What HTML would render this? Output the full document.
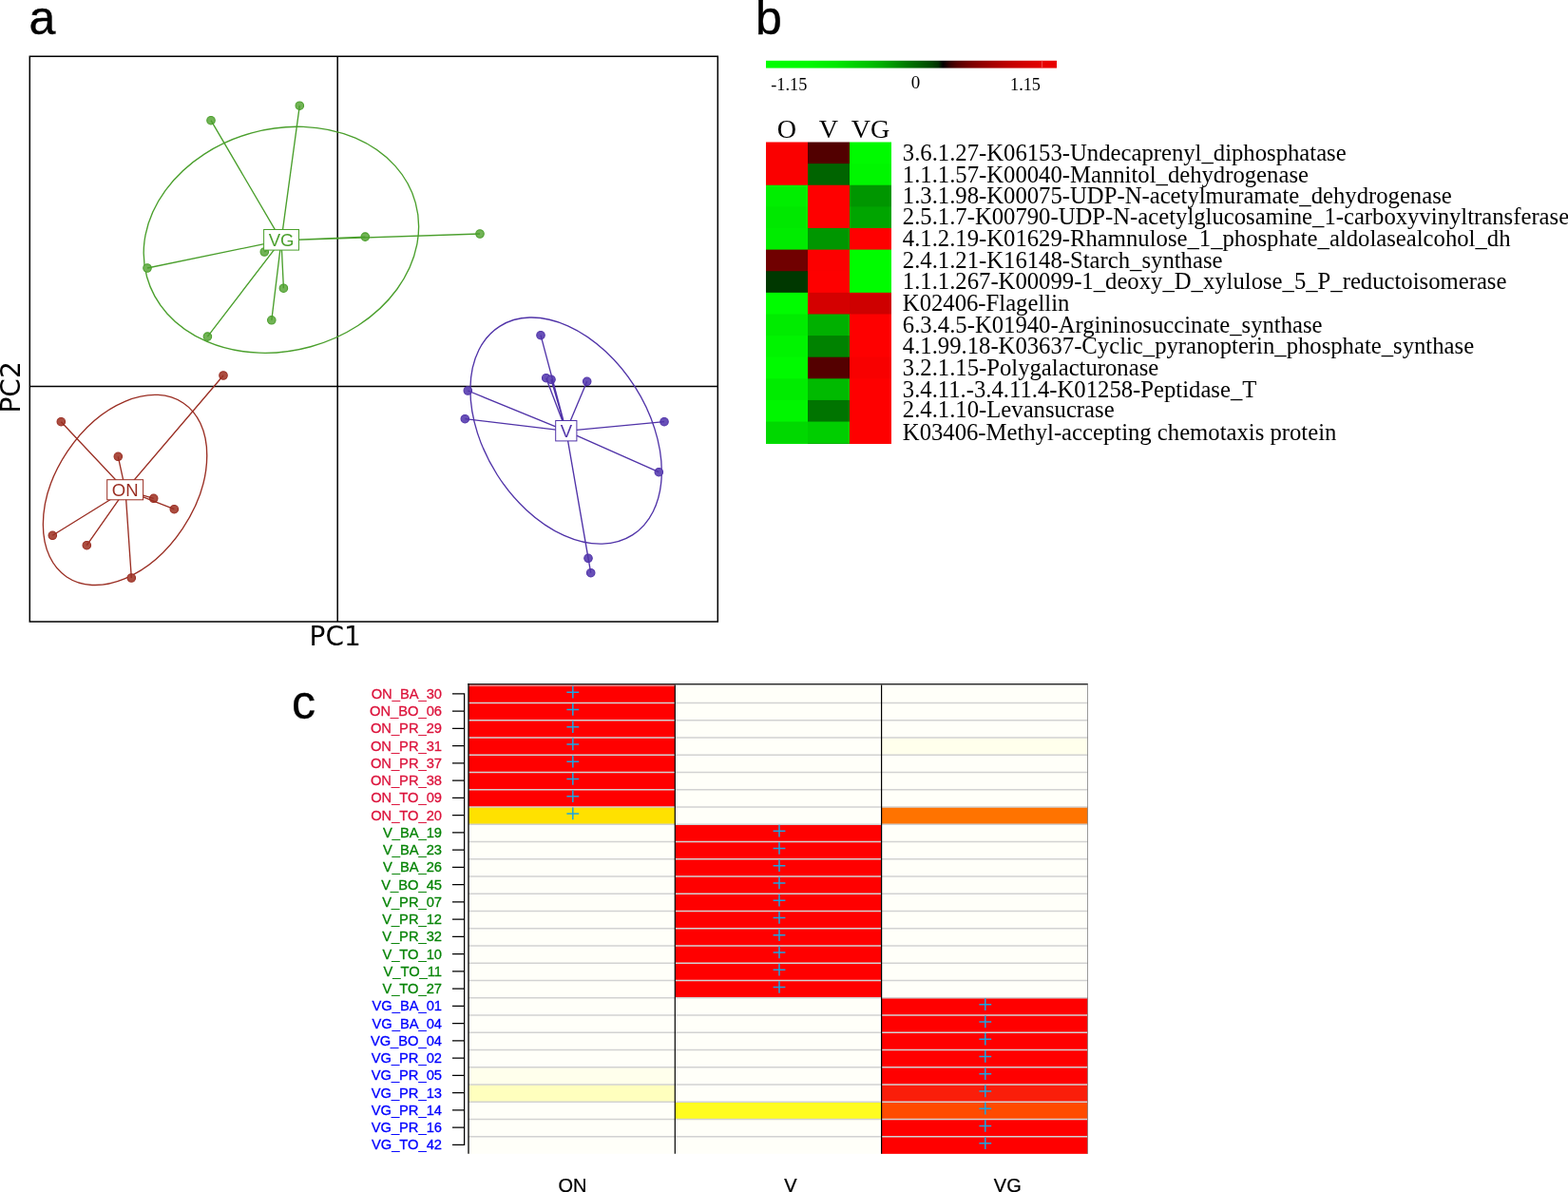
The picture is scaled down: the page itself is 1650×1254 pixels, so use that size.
<!DOCTYPE html>
<html lang="en"><head><meta charset="utf-8"><title>Figure</title>
<style>html,body{margin:0;padding:0;background:#fff;overflow:hidden}svg{display:block}.sans{font-family:"Liberation Sans",sans-serif}.serif{font-family:"Liberation Serif",serif}.dj{font-family:"DejaVu Sans",sans-serif}</style></head><body>
<svg width="1650" height="1254" viewBox="0 0 1650 1254" role="img" aria-label="Figure with panels a, b and c">
<rect x="0" y="0" width="1650" height="1254" fill="#ffffff"/>
<text class="sans" x="30.4" y="35.8" font-size="50" fill="#000" stroke="#000" stroke-width="0.4">a</text>
<text class="sans" x="795.1" y="35.8" font-size="50" fill="#000" stroke="#000" stroke-width="0.4">b</text>
<text class="sans" x="307.1" y="755.9" font-size="50" fill="#000" stroke="#000" stroke-width="0.3">c</text>
<g fill="none" stroke="#000" stroke-width="1.5">
<rect x="31.3" y="59.3" width="724.0" height="594.7"/>
<line x1="355.2" y1="59.3" x2="355.2" y2="653.95"/>
<line x1="31.3" y1="406.4" x2="755.3" y2="406.4"/>
</g>
<text class="dj" x="352.7" y="679" font-size="28" text-anchor="middle" fill="#000">PC1</text>
<text class="dj" transform="translate(20.5 407.4) rotate(-90)" font-size="28" text-anchor="middle" fill="#000">PC2</text>
<g stroke="#4a9f2c" stroke-width="1.35" fill="none">
<ellipse cx="295.9" cy="252.3" rx="146.62" ry="116.63" transform="rotate(164.58 295.9 252.3)"/>
<circle cx="315.3" cy="111.2" r="4.25" fill="#72b356" stroke-width="1.1"/>
<circle cx="222" cy="126.7" r="4.25" fill="#72b356" stroke-width="1.1"/>
<circle cx="505" cy="246.0" r="4.25" fill="#72b356" stroke-width="1.1"/>
<circle cx="384.3" cy="249.1" r="4.25" fill="#72b356" stroke-width="1.1"/>
<circle cx="278.3" cy="265.0" r="4.25" fill="#72b356" stroke-width="1.1"/>
<circle cx="155" cy="282.0" r="4.25" fill="#72b356" stroke-width="1.1"/>
<circle cx="298.4" cy="303.2" r="4.25" fill="#72b356" stroke-width="1.1"/>
<circle cx="285.8" cy="336.8" r="4.25" fill="#72b356" stroke-width="1.1"/>
<circle cx="218.4" cy="354.1" r="4.25" fill="#72b356" stroke-width="1.1"/>
<path d="M296.0 252.9L315.3 111.2M296.0 252.9L222 126.7M296.0 252.9L505 246.0M296.0 252.9L384.3 249.1M296.0 252.9L278.3 265.0M296.0 252.9L155 282.0M296.0 252.9L298.4 303.2M296.0 252.9L285.8 336.8M296.0 252.9L218.4 354.1"/>
<rect x="277.6" y="241.5" width="36.9" height="21.6" fill="#fff" stroke-width="1"/>
<text class="sans" x="296.1" y="259.2" font-size="18.5" text-anchor="middle" fill="#4a9f2c" stroke="none">VG</text>
</g>
<g stroke="#9a2e23" stroke-width="1.35" fill="none">
<ellipse cx="131.55" cy="515.45" rx="110.14" ry="72.93" transform="rotate(123.83 131.55 515.45)"/>
<circle cx="235" cy="395" r="4.25" fill="#ab4d40" stroke-width="1.1"/>
<circle cx="64.3" cy="443.7" r="4.25" fill="#ab4d40" stroke-width="1.1"/>
<circle cx="124.3" cy="480.3" r="4.25" fill="#ab4d40" stroke-width="1.1"/>
<circle cx="161.7" cy="524.3" r="4.25" fill="#ab4d40" stroke-width="1.1"/>
<circle cx="183.3" cy="535.7" r="4.25" fill="#ab4d40" stroke-width="1.1"/>
<circle cx="55.3" cy="563.3" r="4.25" fill="#ab4d40" stroke-width="1.1"/>
<circle cx="91.3" cy="573.7" r="4.25" fill="#ab4d40" stroke-width="1.1"/>
<circle cx="138.3" cy="608" r="4.25" fill="#ab4d40" stroke-width="1.1"/>
<path d="M132.0 515.7L235 395M132.0 515.7L64.3 443.7M132.0 515.7L124.3 480.3M132.0 515.7L161.7 524.3M132.0 515.7L183.3 535.7M132.0 515.7L55.3 563.3M132.0 515.7L91.3 573.7M132.0 515.7L138.3 608"/>
<rect x="112.7" y="504.7" width="37.9" height="21.1" fill="#fff" stroke-width="1"/>
<text class="sans" x="131.7" y="521.9" font-size="18.5" text-anchor="middle" fill="#9a2e23" stroke="none">ON</text>
</g>
<g stroke="#5033a8" stroke-width="1.35" fill="none">
<ellipse cx="595.6" cy="453.1" rx="130.12" ry="85.98" transform="rotate(57.54 595.6 453.1)"/>
<circle cx="569" cy="352.7" r="4.25" fill="#6850b8" stroke-width="1.1"/>
<circle cx="574.7" cy="397.7" r="4.25" fill="#6850b8" stroke-width="1.1"/>
<circle cx="580" cy="399.3" r="4.25" fill="#6850b8" stroke-width="1.1"/>
<circle cx="617.7" cy="401.3" r="4.25" fill="#6850b8" stroke-width="1.1"/>
<circle cx="492.3" cy="411" r="4.25" fill="#6850b8" stroke-width="1.1"/>
<circle cx="489.3" cy="440.7" r="4.25" fill="#6850b8" stroke-width="1.1"/>
<circle cx="699" cy="443.7" r="4.25" fill="#6850b8" stroke-width="1.1"/>
<circle cx="693.3" cy="496.7" r="4.25" fill="#6850b8" stroke-width="1.1"/>
<circle cx="619" cy="587.3" r="4.25" fill="#6850b8" stroke-width="1.1"/>
<circle cx="621.7" cy="602.7" r="4.25" fill="#6850b8" stroke-width="1.1"/>
<path d="M595.8 453.3L569 352.7M595.8 453.3L574.7 397.7M595.8 453.3L580 399.3M595.8 453.3L617.7 401.3M595.8 453.3L492.3 411M595.8 453.3L489.3 440.7M595.8 453.3L699 443.7M595.8 453.3L693.3 496.7M595.8 453.3L619 587.3M595.8 453.3L621.7 602.7"/>
<rect x="584.7" y="442.5" width="22.2" height="21.4" fill="#fff" stroke-width="1"/>
<text class="sans" x="595.8" y="460.0" font-size="18.5" text-anchor="middle" fill="#5033a8" stroke="none">V</text>
</g>
<defs><linearGradient id="cb" x1="0" y1="0" x2="1" y2="0">
<stop offset="0.0000" stop-color="rgb(0,255,0)"/>
<stop offset="0.1516" stop-color="rgb(0,250,0)"/>
<stop offset="0.2549" stop-color="rgb(0,232,0)"/>
<stop offset="0.3238" stop-color="rgb(0,208,0)"/>
<stop offset="0.3686" stop-color="rgb(0,195,0)"/>
<stop offset="0.4168" stop-color="rgb(0,175,0)"/>
<stop offset="0.4616" stop-color="rgb(0,150,0)"/>
<stop offset="0.5064" stop-color="rgb(0,122,0)"/>
<stop offset="0.5546" stop-color="rgb(0,96,0)"/>
<stop offset="0.5994" stop-color="rgb(0,70,0)"/>
<stop offset="0.6235" stop-color="rgb(0,48,0)"/>
<stop offset="0.6407" stop-color="rgb(0,0,0)"/>
<stop offset="0.6683" stop-color="rgb(55,0,0)"/>
<stop offset="0.6924" stop-color="rgb(85,0,0)"/>
<stop offset="0.7372" stop-color="rgb(120,0,0)"/>
<stop offset="0.7819" stop-color="rgb(146,0,0)"/>
<stop offset="0.8302" stop-color="rgb(170,0,0)"/>
<stop offset="0.8750" stop-color="rgb(190,0,0)"/>
<stop offset="0.9197" stop-color="rgb(206,0,0)"/>
<stop offset="0.9680" stop-color="rgb(219,0,0)"/>
<stop offset="1.0000" stop-color="rgb(228,0,0)"/>
</linearGradient></defs>
<rect x="806.0" y="63.8" width="290.8" height="7.8" fill="url(#cb)"/>
<rect x="1096.6" y="63.8" width="15.4" height="7.8" fill="rgb(232,0,0)"/>
<rect x="1096.3" y="63.8" width="0.7" height="7.8" fill="rgb(240,95,95)"/>
<g class="serif" font-size="18.3" fill="#000">
<text x="811.2" y="94.8">-1.15</text>
<text x="963.5" y="93.2" text-anchor="middle" font-size="19">0</text>
<text x="1063" y="94.8">1.15</text>
</g>
<g class="serif" font-size="28.1" fill="#000" text-anchor="middle">
<text x="828.0" y="145.3">O</text>
<text x="872.0" y="145.3">V</text>
<text x="916.0" y="145.3">VG</text>
</g>
<g>
<rect x="806" y="149.50" width="44" height="317.20" fill="rgb(250,0,0)"/>
<rect x="850" y="149.50" width="44" height="317.20" fill="rgb(82,0,0)"/>
<rect x="894" y="149.50" width="44" height="317.20" fill="rgb(0,250,0)"/>
<rect x="806" y="172.12" width="44" height="294.58" fill="rgb(250,0,0)"/>
<rect x="850" y="172.12" width="44" height="294.58" fill="rgb(0,100,0)"/>
<rect x="894" y="172.12" width="44" height="294.58" fill="rgb(0,246,0)"/>
<rect x="806" y="194.74" width="44" height="271.96" fill="rgb(0,238,0)"/>
<rect x="850" y="194.74" width="44" height="271.96" fill="rgb(254,0,0)"/>
<rect x="894" y="194.74" width="44" height="271.96" fill="rgb(0,150,0)"/>
<rect x="806" y="217.36" width="44" height="249.34" fill="rgb(0,232,0)"/>
<rect x="850" y="217.36" width="44" height="249.34" fill="rgb(254,0,0)"/>
<rect x="894" y="217.36" width="44" height="249.34" fill="rgb(0,165,0)"/>
<rect x="806" y="239.98" width="44" height="226.72" fill="rgb(0,236,0)"/>
<rect x="850" y="239.98" width="44" height="226.72" fill="rgb(0,150,0)"/>
<rect x="894" y="239.98" width="44" height="226.72" fill="rgb(254,0,0)"/>
<rect x="806" y="262.60" width="44" height="204.10" fill="rgb(112,0,0)"/>
<rect x="850" y="262.60" width="44" height="204.10" fill="rgb(252,0,0)"/>
<rect x="894" y="262.60" width="44" height="204.10" fill="rgb(0,252,0)"/>
<rect x="806" y="285.22" width="44" height="181.48" fill="rgb(0,56,0)"/>
<rect x="850" y="285.22" width="44" height="181.48" fill="rgb(254,0,0)"/>
<rect x="894" y="285.22" width="44" height="181.48" fill="rgb(0,252,0)"/>
<rect x="806" y="307.84" width="44" height="158.86" fill="rgb(0,252,0)"/>
<rect x="850" y="307.84" width="44" height="158.86" fill="rgb(212,0,0)"/>
<rect x="894" y="307.84" width="44" height="158.86" fill="rgb(206,0,0)"/>
<rect x="806" y="330.46" width="44" height="136.24" fill="rgb(0,236,0)"/>
<rect x="850" y="330.46" width="44" height="136.24" fill="rgb(0,176,0)"/>
<rect x="894" y="330.46" width="44" height="136.24" fill="rgb(254,0,0)"/>
<rect x="806" y="353.08" width="44" height="113.62" fill="rgb(0,244,0)"/>
<rect x="850" y="353.08" width="44" height="113.62" fill="rgb(0,130,0)"/>
<rect x="894" y="353.08" width="44" height="113.62" fill="rgb(254,0,0)"/>
<rect x="806" y="375.70" width="44" height="91.00" fill="rgb(0,250,0)"/>
<rect x="850" y="375.70" width="44" height="91.00" fill="rgb(84,0,0)"/>
<rect x="894" y="375.70" width="44" height="91.00" fill="rgb(248,0,0)"/>
<rect x="806" y="398.32" width="44" height="68.38" fill="rgb(0,236,0)"/>
<rect x="850" y="398.32" width="44" height="68.38" fill="rgb(0,186,0)"/>
<rect x="894" y="398.32" width="44" height="68.38" fill="rgb(254,0,0)"/>
<rect x="806" y="420.94" width="44" height="45.76" fill="rgb(0,246,0)"/>
<rect x="850" y="420.94" width="44" height="45.76" fill="rgb(0,116,0)"/>
<rect x="894" y="420.94" width="44" height="45.76" fill="rgb(254,0,0)"/>
<rect x="806" y="443.56" width="44" height="23.14" fill="rgb(0,216,0)"/>
<rect x="850" y="443.56" width="44" height="23.14" fill="rgb(0,206,0)"/>
<rect x="894" y="443.56" width="44" height="23.14" fill="rgb(254,0,0)"/>
</g>
<g class="serif" font-size="24.7" fill="#000">
<text x="949.8" y="169.4">3.6.1.27-K06153-Undecaprenyl_diphosphatase</text>
<text x="949.8" y="192.0">1.1.1.57-K00040-Mannitol_dehydrogenase</text>
<text x="949.8" y="213.5">1.3.1.98-K00075-UDP-N-acetylmuramate_dehydrogenase</text>
<text x="949.8" y="236.1">2.5.1.7-K00790-UDP-N-acetylglucosamine_1-carboxyvinyltransferase</text>
<text x="949.8" y="258.7">4.1.2.19-K01629-Rhamnulose_1_phosphate_aldolasealcohol_dh</text>
<text x="949.8" y="281.5">2.4.1.21-K16148-Starch_synthase</text>
<text x="949.8" y="304.2">1.1.1.267-K00099-1_deoxy_D_xylulose_5_P_reductoisomerase</text>
<text x="949.8" y="326.8">K02406-Flagellin</text>
<text x="949.8" y="350.1">6.3.4.5-K01940-Argininosuccinate_synthase</text>
<text x="949.8" y="372.3">4.1.99.18-K03637-Cyclic_pyranopterin_phosphate_synthase</text>
<text x="949.8" y="394.8">3.2.1.15-Polygalacturonase</text>
<text x="949.8" y="417.8">3.4.11.-3.4.11.4-K01258-Peptidase_T</text>
<text x="949.8" y="439.2">2.4.1.10-Levansucrase</text>
<text x="949.8" y="463.4">K03406-Methyl-accepting chemotaxis protein</text>
</g>
<rect x="493.0" y="720.4" width="651.5" height="493.45" fill="rgb(255, 255, 249)"/>
<g>
<rect x="493.0" y="720.40" width="217.3" height="19.35" fill="rgb(255, 0, 0)"/>
<rect x="493.0" y="739.45" width="217.3" height="18.55" fill="rgb(255, 0, 0)"/>
<rect x="493.0" y="757.70" width="217.3" height="18.55" fill="rgb(255, 0, 0)"/>
<rect x="493.0" y="775.95" width="217.3" height="18.55" fill="rgb(255, 0, 0)"/>
<rect x="927.6" y="775.95" width="216.9" height="18.55" fill="rgb(255, 255, 236)"/>
<rect x="493.0" y="794.20" width="217.3" height="18.55" fill="rgb(255, 0, 0)"/>
<rect x="493.0" y="812.45" width="217.3" height="18.55" fill="rgb(255, 0, 0)"/>
<rect x="493.0" y="830.70" width="217.3" height="18.55" fill="rgb(255, 0, 0)"/>
<rect x="493.0" y="848.95" width="217.3" height="18.55" fill="rgb(255, 225, 0)"/>
<rect x="927.6" y="848.95" width="216.9" height="18.55" fill="rgb(255, 115, 0)"/>
<rect x="710.3" y="867.20" width="217.3" height="18.55" fill="rgb(255, 0, 0)"/>
<rect x="710.3" y="885.45" width="217.3" height="18.55" fill="rgb(255, 0, 0)"/>
<rect x="710.3" y="903.70" width="217.3" height="18.55" fill="rgb(255, 0, 0)"/>
<rect x="710.3" y="921.95" width="217.3" height="18.55" fill="rgb(255, 0, 0)"/>
<rect x="710.3" y="940.20" width="217.3" height="18.55" fill="rgb(255, 0, 0)"/>
<rect x="710.3" y="958.45" width="217.3" height="18.55" fill="rgb(255, 0, 0)"/>
<rect x="710.3" y="976.70" width="217.3" height="18.55" fill="rgb(255, 0, 0)"/>
<rect x="710.3" y="994.95" width="217.3" height="18.55" fill="rgb(255, 0, 0)"/>
<rect x="710.3" y="1013.20" width="217.3" height="18.55" fill="rgb(255, 0, 0)"/>
<rect x="710.3" y="1031.45" width="217.3" height="18.55" fill="rgb(255, 0, 0)"/>
<rect x="927.6" y="1049.70" width="216.9" height="18.55" fill="rgb(255, 0, 0)"/>
<rect x="927.6" y="1067.95" width="216.9" height="18.55" fill="rgb(255, 0, 0)"/>
<rect x="927.6" y="1086.20" width="216.9" height="18.55" fill="rgb(255, 0, 0)"/>
<rect x="927.6" y="1104.45" width="216.9" height="18.55" fill="rgb(255, 0, 0)"/>
<rect x="493.0" y="1122.70" width="217.3" height="18.55" fill="rgb(255, 255, 236)"/>
<rect x="927.6" y="1122.70" width="216.9" height="18.55" fill="rgb(255, 0, 0)"/>
<rect x="493.0" y="1140.95" width="217.3" height="18.55" fill="rgb(255, 255, 190)"/>
<rect x="927.6" y="1140.95" width="216.9" height="18.55" fill="rgb(250, 30, 10)"/>
<rect x="710.3" y="1159.20" width="217.3" height="18.55" fill="rgb(255, 252, 32)"/>
<rect x="927.6" y="1159.20" width="216.9" height="18.55" fill="rgb(255, 75, 0)"/>
<rect x="927.6" y="1177.45" width="216.9" height="18.55" fill="rgb(255, 0, 0)"/>
<rect x="927.6" y="1195.70" width="216.9" height="18.15" fill="rgb(255, 0, 0)"/>
</g>
<path d="M493.0 739.45H1144.5M493.0 757.70H1144.5M493.0 775.95H1144.5M493.0 794.20H1144.5M493.0 812.45H1144.5M493.0 830.70H1144.5M493.0 848.95H1144.5M493.0 867.20H1144.5M493.0 885.45H1144.5M493.0 903.70H1144.5M493.0 921.95H1144.5M493.0 940.20H1144.5M493.0 958.45H1144.5M493.0 976.70H1144.5M493.0 994.95H1144.5M493.0 1013.20H1144.5M493.0 1031.45H1144.5M493.0 1049.70H1144.5M493.0 1067.95H1144.5M493.0 1086.20H1144.5M493.0 1104.45H1144.5M493.0 1122.70H1144.5M493.0 1140.95H1144.5M493.0 1159.20H1144.5M493.0 1177.45H1144.5M493.0 1195.70H1144.5" stroke="#d2d2d2" stroke-width="1.4" fill="none"/>
<line x1="493.0" y1="721.6" x2="710.3" y2="721.6" stroke="#e8c0c0" stroke-width="0.8"/>
<line x1="1144.5" y1="720.4" x2="1144.5" y2="1213.85" stroke="#707070" stroke-width="0.7"/>
<line x1="492.3" y1="719.8" x2="1144.8" y2="719.8" stroke="#303030" stroke-width="1.5"/>
<line x1="493.0" y1="719.1" x2="493.0" y2="1213.85" stroke="#111" stroke-width="1.4"/>
<g stroke="#000" stroke-width="1.2">
<line x1="710.3" y1="720.4" x2="710.3" y2="1213.85"/>
<line x1="927.6" y1="720.4" x2="927.6" y2="1213.85"/>
</g>
<path d="M488.6 729.80V1204.30M476 729.80H489.2M476 748.05H489.2M476 766.30H489.2M476 784.55H489.2M476 802.80H489.2M476 821.05H489.2M476 839.30H489.2M476 857.55H489.2M476 875.80H489.2M476 894.05H489.2M476 912.30H489.2M476 930.55H489.2M476 948.80H489.2M476 967.05H489.2M476 985.30H489.2M476 1003.55H489.2M476 1021.80H489.2M476 1040.05H489.2M476 1058.30H489.2M476 1076.55H489.2M476 1094.80H489.2M476 1113.05H489.2M476 1131.30H489.2M476 1149.55H489.2M476 1167.80H489.2M476 1186.05H489.2M476 1204.30H489.2" stroke="#000" stroke-width="1.25" fill="none"/>
<g class="sans" font-size="14.7" text-anchor="end" stroke-width="0.3">
<text x="465" y="734.8" fill="#dc143c" stroke="#dc143c">ON_BA_30</text>
<text x="465" y="753.1" fill="#dc143c" stroke="#dc143c">ON_BO_06</text>
<text x="465" y="771.3" fill="#dc143c" stroke="#dc143c">ON_PR_29</text>
<text x="465" y="789.6" fill="#dc143c" stroke="#dc143c">ON_PR_31</text>
<text x="465" y="807.8" fill="#dc143c" stroke="#dc143c">ON_PR_37</text>
<text x="465" y="826.1" fill="#dc143c" stroke="#dc143c">ON_PR_38</text>
<text x="465" y="844.3" fill="#dc143c" stroke="#dc143c">ON_TO_09</text>
<text x="465" y="862.6" fill="#dc143c" stroke="#dc143c">ON_TO_20</text>
<text x="465" y="880.8" fill="#078407" stroke="#078407">V_BA_19</text>
<text x="465" y="899.1" fill="#078407" stroke="#078407">V_BA_23</text>
<text x="465" y="917.3" fill="#078407" stroke="#078407">V_BA_26</text>
<text x="465" y="935.6" fill="#078407" stroke="#078407">V_BO_45</text>
<text x="465" y="953.8" fill="#078407" stroke="#078407">V_PR_07</text>
<text x="465" y="972.1" fill="#078407" stroke="#078407">V_PR_12</text>
<text x="465" y="990.3" fill="#078407" stroke="#078407">V_PR_32</text>
<text x="465" y="1008.6" fill="#078407" stroke="#078407">V_TO_10</text>
<text x="465" y="1026.8" fill="#078407" stroke="#078407">V_TO_11</text>
<text x="465" y="1045.0" fill="#078407" stroke="#078407">V_TO_27</text>
<text x="465" y="1063.3" fill="#0000ff" stroke="#0000ff">VG_BA_01</text>
<text x="465" y="1081.5" fill="#0000ff" stroke="#0000ff">VG_BA_04</text>
<text x="465" y="1099.8" fill="#0000ff" stroke="#0000ff">VG_BO_04</text>
<text x="465" y="1118.0" fill="#0000ff" stroke="#0000ff">VG_PR_02</text>
<text x="465" y="1136.3" fill="#0000ff" stroke="#0000ff">VG_PR_05</text>
<text x="465" y="1154.5" fill="#0000ff" stroke="#0000ff">VG_PR_13</text>
<text x="465" y="1172.8" fill="#0000ff" stroke="#0000ff">VG_PR_14</text>
<text x="465" y="1191.0" fill="#0000ff" stroke="#0000ff">VG_PR_16</text>
<text x="465" y="1209.3" fill="#0000ff" stroke="#0000ff">VG_TO_42</text>
</g>
<path d="M596.4 728.20H609.2M602.8 721.80V734.60M596.4 746.45H609.2M602.8 740.05V752.85M596.4 764.70H609.2M602.8 758.30V771.10M596.4 782.95H609.2M602.8 776.55V789.35M596.4 801.20H609.2M602.8 794.80V807.60M596.4 819.45H609.2M602.8 813.05V825.85M596.4 837.70H609.2M602.8 831.30V844.10M596.4 855.95H609.2M602.8 849.55V862.35M813.6 874.20H826.4M820.0 867.80V880.60M813.6 892.45H826.4M820.0 886.05V898.85M813.6 910.70H826.4M820.0 904.30V917.10M813.6 928.95H826.4M820.0 922.55V935.35M813.6 947.20H826.4M820.0 940.80V953.60M813.6 965.45H826.4M820.0 959.05V971.85M813.6 983.70H826.4M820.0 977.30V990.10M813.6 1001.95H826.4M820.0 995.55V1008.35M813.6 1020.20H826.4M820.0 1013.80V1026.60M813.6 1038.45H826.4M820.0 1032.05V1044.85M1030.4 1056.70H1043.2M1036.8 1050.30V1063.10M1030.4 1074.95H1043.2M1036.8 1068.55V1081.35M1030.4 1093.20H1043.2M1036.8 1086.80V1099.60M1030.4 1111.45H1043.2M1036.8 1105.05V1117.85M1030.4 1129.70H1043.2M1036.8 1123.30V1136.10M1030.4 1147.95H1043.2M1036.8 1141.55V1154.35M1030.4 1166.20H1043.2M1036.8 1159.80V1172.60M1030.4 1184.45H1043.2M1036.8 1178.05V1190.85M1030.4 1202.70H1043.2M1036.8 1196.30V1209.10" stroke="#18a6e4" stroke-width="1.5" fill="none"/>
<g class="sans" font-size="20" text-anchor="middle" fill="#000" stroke="#000" stroke-width="0.25">
<text x="602.5" y="1254.3">ON</text>
<text x="832" y="1254.3">V</text>
<text x="1060.3" y="1254.3">VG</text>
</g>
</svg></body></html>
